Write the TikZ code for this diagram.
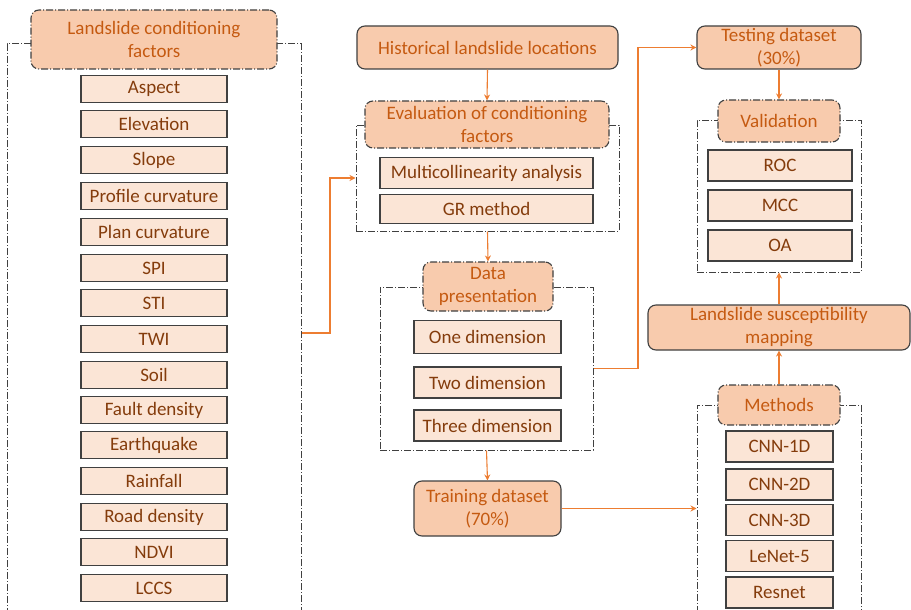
\documentclass[tikz,border=0pt]{standalone}
\usepackage{fontspec}
\setmainfont{Carlito}
\usetikzlibrary{arrows.meta}
\definecolor{hdrfill}{HTML}{F8CBAD}
\definecolor{itemfill}{HTML}{FBE5D6}
\definecolor{hdrtext}{HTML}{C55A11}
\definecolor{itemtext}{HTML}{843C0C}
\definecolor{bordergray}{HTML}{404040}
\definecolor{arrowc}{HTML}{ED7D31}
\tikzset{
  dashdotline/.style={dash pattern=on 7pt off 2pt on 1pt off 2pt},
  hdr/.style={draw=bordergray, line width=1.1pt, dashdotline, rounded corners=8pt, fill=hdrfill, text=hdrtext, font=\fontsize{19}{23}\selectfont, align=center, inner sep=0pt},
  solidhdr/.style={draw=bordergray, line width=1.1pt, rounded corners=8pt, fill=hdrfill, text=hdrtext, font=\fontsize{19}{23}\selectfont, align=center, inner sep=0pt},
  itembox/.style={draw=bordergray, line width=1.1pt, fill=itemfill, text=itemtext, font=\fontsize{19}{22}\selectfont, align=center, inner sep=0pt},
  cont/.style={draw=bordergray, line width=1pt, dashdotline, inner sep=0pt},
  arr/.style={draw=arrowc, line width=1.1pt, -{Stealth[length=6pt,width=6pt]}},
  conn/.style={draw=arrowc, line width=1.1pt}
}
\begin{document}
\begin{tikzpicture}[x=1pt,y=-1pt]
\useasboundingbox (0,0) rectangle (911,610);
\clip (0,0) rectangle (911,610);
\fill[white] (0,0) rectangle (911,610);

% containers
\node[cont, minimum width=294pt, minimum height=576pt] (leftc) at (154,332) {};
\node[cont, minimum width=263pt, minimum height=106pt] (evalc) at (487.5,178) {};
\node[cont, minimum width=213pt, minimum height=163pt] (datac) at (486.5,368.5) {};
\node[cont, minimum width=164pt, minimum height=152pt] (valc) at (779,196) {};
\node[cont, minimum width=164pt, minimum height=215pt] (methc) at (779,512.5) {};

% left column
\node[hdr, minimum width=246pt, minimum height=59pt] (lcf) at (154,39.5) {Landslide conditioning\\factors};
\foreach \n/\t/\y in {f1/Aspect/89, f2/Elevation/124, f3/Slope/160, f4/Profile curvature/196, f5/Plan curvature/232, f6/SPI/268, f7/STI/303, f8/TWI/339, f9/Soil/375, f10/Fault density/410, f11/Earthquake/445, f12/Rainfall/481, f13/Road density/517, f14/NDVI/552, f15/LCCS/588}
  \node[itembox, minimum width=146pt, minimum height=27pt] (\n) at (154,\y) {\t};

% middle column
\node[solidhdr, minimum width=261pt, minimum height=43pt] (hist) at (487.5,47.5) {Historical landslide locations};
\node[hdr, minimum width=244pt, minimum height=47pt] (evalh) at (487,124.5) {Evaluation of conditioning\\factors};
\node[itembox, minimum width=213pt, minimum height=31pt] (multi) at (486.5,173) {Multicollinearity analysis};
\node[itembox, minimum width=213pt, minimum height=29pt] (gr) at (486.5,209) {GR method};
\node[hdr, minimum width=130pt, minimum height=49pt] (datah) at (488,286.5) {Data\\presentation};
\node[itembox, minimum width=147pt, minimum height=33pt] (d1) at (487.5,337) {One dimension};
\node[itembox, minimum width=147pt, minimum height=31pt] (d2) at (487.5,382.5) {Two dimension};
\node[itembox, minimum width=147pt, minimum height=31pt] (d3) at (487.5,425.5) {Three dimension};
\node[solidhdr, minimum width=147pt, minimum height=55pt] (train) at (487.5,508.5) {Training dataset\\(70\%)};

% right column
\node[solidhdr, minimum width=164pt, minimum height=43pt] (test) at (779,47.5) {Testing dataset\\(30\%)};
\node[hdr, minimum width=122pt, minimum height=42pt] (valh) at (779,121) {Validation};
\node[itembox, minimum width=144pt, minimum height=31pt] (roc) at (780,165.5) {ROC};
\node[itembox, minimum width=144pt, minimum height=31pt] (mcc) at (780,205.5) {MCC};
\node[itembox, minimum width=144pt, minimum height=31pt] (oa) at (780,245.5) {OA};
\node[solidhdr, minimum width=262pt, minimum height=45pt] (lsm) at (779,327.5) {Landslide susceptibility\\mapping};
\node[hdr, minimum width=122pt, minimum height=40pt] (methh) at (779,405) {Methods};
\node[itembox, minimum width=107pt, minimum height=31pt] (m1) at (779.5,446.5) {CNN-1D};
\node[itembox, minimum width=107pt, minimum height=31pt] (m2) at (779.5,484.5) {CNN-2D};
\node[itembox, minimum width=107pt, minimum height=31pt] (m3) at (779.5,520) {CNN-3D};
\node[itembox, minimum width=107pt, minimum height=31pt] (m4) at (779.5,556) {LeNet-5};
\node[itembox, minimum width=107pt, minimum height=31pt] (m5) at (779.5,592.5) {Resnet};

% connectors
\coordinate (j1) at (330,333);
\coordinate (j2) at (638,47.5);
\draw[arr] (hist.south) -- (evalh.north);
\draw[arr] (evalc.south) -- (datah.north);
\draw[arr] (datac.south) -- (train.north);
\draw[arr] (train.east) -- (train.east -| methc.west);
\draw[arr] (j1 -| leftc.east) -- (j1) |- (evalc.west);
\draw[arr] (datac.east) -| (j2) -- (test.west);
\draw[arr] (test.south) -- (valh.north);
\draw[arr] (lsm.north) -- (valc.south);
\draw[arr] (methh.north) -- (lsm.south);
\end{tikzpicture}
\end{document}
